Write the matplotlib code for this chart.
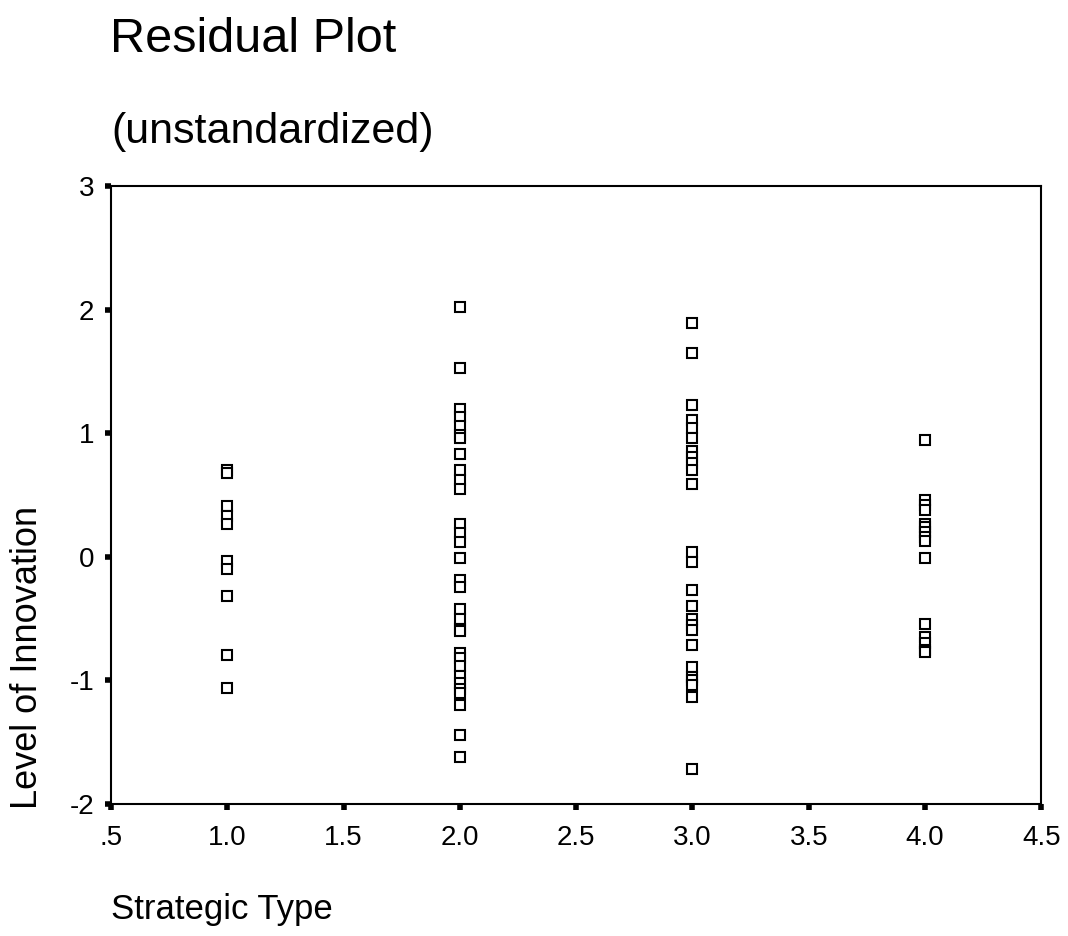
import matplotlib.pyplot as plt

plt.rcParams['font.family'] = ['Liberation Sans', 'DejaVu Sans']
plt.rcParams['axes.unicode_minus'] = False

# residuals, one list per strategic type
type1 = [0.70, 0.68, 0.41, 0.33, 0.27, -0.03, -0.10, -0.32, -0.79, -1.06]
type2 = [2.02, 1.53, 1.20, 1.13, 1.06, 0.99, 0.96, 0.83, 0.70, 0.62, 0.55,
         0.27, 0.19, 0.12, -0.01, -0.19, -0.24, -0.42, -0.50, -0.58, -0.60,
         -0.78, -0.82, -0.88, -0.96, -1.02, -1.07, -1.10, -1.20, -1.44, -1.62]
type3 = [1.89, 1.65, 1.23, 1.11, 1.04, 0.96, 0.86, 0.81, 0.76, 0.70, 0.59,
         0.04, -0.04, -0.27, -0.40, -0.50, -0.55, -0.59, -0.71, -0.89, -0.97,
         -1.00, -1.04, -1.13, -1.72]
type4 = [0.95, 0.46, 0.42, 0.38, 0.27, 0.24, 0.20, 0.16, 0.13, -0.01,
         -0.54, -0.65, -0.70, -0.75, -0.77]

groups = [(1.0, type1), (2.0, type2), (3.0, type3), (4.0, type4)]

xticks = [0.5, 1.0, 1.5, 2.0, 2.5, 3.0, 3.5, 4.0, 4.5]
xticklabels = ['.5', '1.0', '1.5', '2.0', '2.5', '3.0', '3.5', '4.0', '4.5']
yticks = [-2, -1, 0, 1, 2, 3]

fig = plt.figure(figsize=(10.68, 9.36), dpi=100)
ax = fig.add_axes([0.104, 0.141, 0.871, 0.660])

for x, vals in groups:
    ax.plot([x] * len(vals), vals, linestyle='none', marker='s', markersize=7.5,
            markerfacecolor='white', markeredgecolor='black', markeredgewidth=1.5)

ax.set_xlim(0.5, 4.5)
ax.set_ylim(-2, 3)
ax.set_xticks(xticks)
ax.set_xticklabels(xticklabels)
ax.set_yticks(yticks)
ax.tick_params(direction='out', length=4, width=4, labelsize=20, pad=8)
ax.tick_params(axis='x', pad=11)
for s in ax.spines.values():
    s.set_linewidth(1.5)

fig.text(0.103, 0.944, 'Residual Plot', fontsize=35, va='baseline', ha='left')
fig.text(0.104, 0.847, '(unstandardized)', fontsize=31, va='baseline', ha='left')
fig.text(0.104, 0.018, 'Strategic Type', fontsize=25, va='baseline', ha='left')
fig.text(0.026, 0.298, 'Level of Innovation', fontsize=26, va='center', ha='center',
         rotation=90)

fig.savefig('out.png', dpi=100)
